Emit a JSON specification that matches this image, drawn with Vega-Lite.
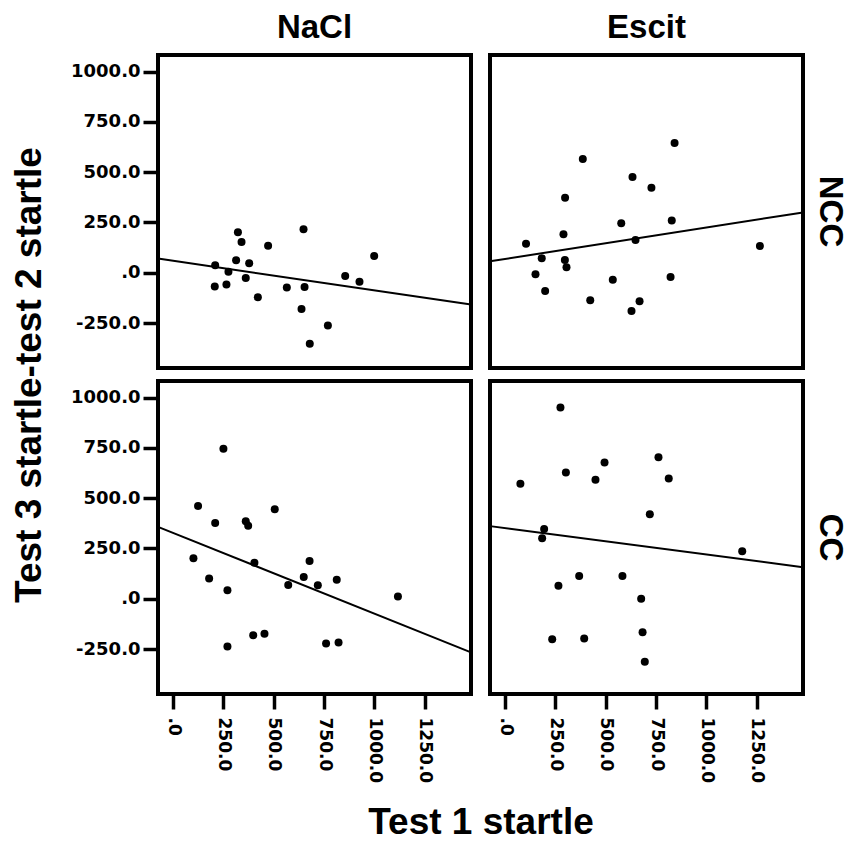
{
  "$schema": "https://vega.github.io/schema/vega-lite/v6.json",
  "padding": {"left": 10, "top": 12, "right": 5, "bottom": 5},
  "bounds": "flush",
  "data": {"values": [
    {"treatment":"NaCl","group":"NCC","kind":"point","x":322,"y":202},
    {"treatment":"NaCl","group":"NCC","kind":"point","x":340,"y":153},
    {"treatment":"NaCl","group":"NCC","kind":"point","x":648,"y":216},
    {"treatment":"NaCl","group":"NCC","kind":"point","x":472,"y":134},
    {"treatment":"NaCl","group":"NCC","kind":"point","x":999,"y":83},
    {"treatment":"NaCl","group":"NCC","kind":"point","x":209,"y":37},
    {"treatment":"NaCl","group":"NCC","kind":"point","x":313,"y":62},
    {"treatment":"NaCl","group":"NCC","kind":"point","x":378,"y":47},
    {"treatment":"NaCl","group":"NCC","kind":"point","x":275,"y":5},
    {"treatment":"NaCl","group":"NCC","kind":"point","x":361,"y":-26},
    {"treatment":"NaCl","group":"NCC","kind":"point","x":207,"y":-68},
    {"treatment":"NaCl","group":"NCC","kind":"point","x":265,"y":-58},
    {"treatment":"NaCl","group":"NCC","kind":"point","x":421,"y":-121},
    {"treatment":"NaCl","group":"NCC","kind":"point","x":565,"y":-73},
    {"treatment":"NaCl","group":"NCC","kind":"point","x":653,"y":-71},
    {"treatment":"NaCl","group":"NCC","kind":"point","x":855,"y":-16},
    {"treatment":"NaCl","group":"NCC","kind":"point","x":926,"y":-45},
    {"treatment":"NaCl","group":"NCC","kind":"point","x":638,"y":-180},
    {"treatment":"NaCl","group":"NCC","kind":"point","x":769,"y":-262},
    {"treatment":"NaCl","group":"NCC","kind":"point","x":679,"y":-353},
    {"treatment":"NaCl","group":"NCC","kind":"fit","x":-75,"y":71},
    {"treatment":"NaCl","group":"NCC","kind":"fit","x":1480,"y":-158},
    {"treatment":"Escit","group":"NCC","kind":"point","x":842,"y":645},
    {"treatment":"Escit","group":"NCC","kind":"point","x":386,"y":565},
    {"treatment":"Escit","group":"NCC","kind":"point","x":633,"y":476},
    {"treatment":"Escit","group":"NCC","kind":"point","x":727,"y":423},
    {"treatment":"Escit","group":"NCC","kind":"point","x":298,"y":373},
    {"treatment":"Escit","group":"NCC","kind":"point","x":577,"y":246},
    {"treatment":"Escit","group":"NCC","kind":"point","x":828,"y":260},
    {"treatment":"Escit","group":"NCC","kind":"point","x":290,"y":191},
    {"treatment":"Escit","group":"NCC","kind":"point","x":104,"y":144},
    {"treatment":"Escit","group":"NCC","kind":"point","x":648,"y":163},
    {"treatment":"Escit","group":"NCC","kind":"point","x":1266,"y":133},
    {"treatment":"Escit","group":"NCC","kind":"point","x":182,"y":72},
    {"treatment":"Escit","group":"NCC","kind":"point","x":297,"y":63},
    {"treatment":"Escit","group":"NCC","kind":"point","x":305,"y":28},
    {"treatment":"Escit","group":"NCC","kind":"point","x":151,"y":-7},
    {"treatment":"Escit","group":"NCC","kind":"point","x":199,"y":-90},
    {"treatment":"Escit","group":"NCC","kind":"point","x":535,"y":-35},
    {"treatment":"Escit","group":"NCC","kind":"point","x":822,"y":-21},
    {"treatment":"Escit","group":"NCC","kind":"point","x":423,"y":-136},
    {"treatment":"Escit","group":"NCC","kind":"point","x":668,"y":-141},
    {"treatment":"Escit","group":"NCC","kind":"point","x":628,"y":-190},
    {"treatment":"Escit","group":"NCC","kind":"fit","x":-75,"y":57},
    {"treatment":"Escit","group":"NCC","kind":"fit","x":1480,"y":300},
    {"treatment":"NaCl","group":"CC","kind":"point","x":250,"y":746},
    {"treatment":"NaCl","group":"CC","kind":"point","x":124,"y":461},
    {"treatment":"NaCl","group":"CC","kind":"point","x":505,"y":445},
    {"treatment":"NaCl","group":"CC","kind":"point","x":209,"y":377},
    {"treatment":"NaCl","group":"CC","kind":"point","x":361,"y":385},
    {"treatment":"NaCl","group":"CC","kind":"point","x":373,"y":363},
    {"treatment":"NaCl","group":"CC","kind":"point","x":101,"y":201},
    {"treatment":"NaCl","group":"CC","kind":"point","x":404,"y":179},
    {"treatment":"NaCl","group":"CC","kind":"point","x":678,"y":188},
    {"treatment":"NaCl","group":"CC","kind":"point","x":179,"y":101},
    {"treatment":"NaCl","group":"CC","kind":"point","x":649,"y":108},
    {"treatment":"NaCl","group":"CC","kind":"point","x":813,"y":95},
    {"treatment":"NaCl","group":"CC","kind":"point","x":270,"y":43},
    {"treatment":"NaCl","group":"CC","kind":"point","x":572,"y":68},
    {"treatment":"NaCl","group":"CC","kind":"point","x":719,"y":67},
    {"treatment":"NaCl","group":"CC","kind":"point","x":1117,"y":12},
    {"treatment":"NaCl","group":"CC","kind":"point","x":398,"y":-181},
    {"treatment":"NaCl","group":"CC","kind":"point","x":454,"y":-174},
    {"treatment":"NaCl","group":"CC","kind":"point","x":270,"y":-237},
    {"treatment":"NaCl","group":"CC","kind":"point","x":760,"y":-222},
    {"treatment":"NaCl","group":"CC","kind":"point","x":822,"y":-217},
    {"treatment":"NaCl","group":"CC","kind":"fit","x":-75,"y":357},
    {"treatment":"NaCl","group":"CC","kind":"fit","x":1480,"y":-266},
    {"treatment":"Escit","group":"CC","kind":"point","x":275,"y":950},
    {"treatment":"Escit","group":"CC","kind":"point","x":762,"y":703},
    {"treatment":"Escit","group":"CC","kind":"point","x":494,"y":677},
    {"treatment":"Escit","group":"CC","kind":"point","x":302,"y":627},
    {"treatment":"Escit","group":"CC","kind":"point","x":449,"y":591},
    {"treatment":"Escit","group":"CC","kind":"point","x":813,"y":597},
    {"treatment":"Escit","group":"CC","kind":"point","x":76,"y":571},
    {"treatment":"Escit","group":"CC","kind":"point","x":719,"y":420},
    {"treatment":"Escit","group":"CC","kind":"point","x":194,"y":347},
    {"treatment":"Escit","group":"CC","kind":"point","x":184,"y":301},
    {"treatment":"Escit","group":"CC","kind":"point","x":1178,"y":236},
    {"treatment":"Escit","group":"CC","kind":"point","x":368,"y":113},
    {"treatment":"Escit","group":"CC","kind":"point","x":583,"y":113},
    {"treatment":"Escit","group":"CC","kind":"point","x":265,"y":65},
    {"treatment":"Escit","group":"CC","kind":"point","x":676,"y":0},
    {"treatment":"Escit","group":"CC","kind":"point","x":683,"y":-166},
    {"treatment":"Escit","group":"CC","kind":"point","x":234,"y":-201},
    {"treatment":"Escit","group":"CC","kind":"point","x":393,"y":-197},
    {"treatment":"Escit","group":"CC","kind":"point","x":694,"y":-313},
    {"treatment":"Escit","group":"CC","kind":"fit","x":-75,"y":361},
    {"treatment":"Escit","group":"CC","kind":"fit","x":1480,"y":157}
  ]},
  "facet": {
    "column": {"field": "treatment", "type": "nominal", "sort": ["NaCl", "Escit"], "title": "Test 1 startle",
      "header": {"labelOrient": "top", "titleOrient": "bottom",
        "labelFont": "Liberation Sans", "labelFontWeight": "bold", "labelFontSize": 33, "labelColor": "#000", "labelPadding": 10,
        "titleFont": "Liberation Sans", "titleFontWeight": "bold", "titleFontSize": 37, "titleColor": "#000", "titlePadding": 12}},
    "row": {"field": "group", "type": "nominal", "sort": ["NCC", "CC"], "title": "Test 3 startle-test 2 startle",
      "header": {"labelOrient": "right", "titleOrient": "left", "labelAngle": 90, "labelAlign": "center", "labelBaseline": "middle",
        "labelFont": "Liberation Sans", "labelFontWeight": "bold", "labelFontSize": 33, "labelColor": "#000", "labelPadding": -6,
        "titleFont": "Liberation Sans", "titleFontWeight": "bold", "titleFontSize": 37, "titleColor": "#000", "titlePadding": 11}}
  },
  "spacing": {"row": 13, "column": 19},
  "spec": {
    "width": 313,
    "height": 313,
    "encoding": {
      "x": {"field": "x", "type": "quantitative",
        "scale": {"domain": [-75, 1480], "nice": false, "zero": false},
        "axis": {"values": [0, 250, 500, 750, 1000, 1250], "labelAngle": 90, "labelAlign": "left", "labelBaseline": "middle",
          "labelFontSize": 17, "labelPadding": 8, "title": null}},
      "y": {"field": "y", "type": "quantitative",
        "scale": {"domain": [-473, 1082], "nice": false, "zero": false},
        "axis": {"values": [-250, 0, 250, 500, 750, 1000], "labelFontSize": 18, "labelPadding": 3, "title": null}}
    },
    "layer": [
      {"transform": [{"filter": "datum.kind == 'point'"}],
       "mark": {"type": "point", "shape": "circle", "filled": true, "size": 64, "color": "#000", "opacity": 1}},
      {"transform": [{"filter": "datum.kind == 'fit'"}],
       "mark": {"type": "line", "color": "#000", "strokeWidth": 2}}
    ]
  },
  "config": {
    "background": "#ffffff",
    "view": {"stroke": "#000", "strokeWidth": 4},
    "axis": {
      "domain": false, "grid": false,
      "ticks": true, "tickSize": 15, "tickWidth": 3.5, "tickColor": "#000",
      "labelFont": "DejaVu Sans", "labelFontWeight": "bold", "labelColor": "#000",
      "labelExpr": "datum.value == 0 ? '.0' : datum.value + '.0'"
    }
  }
}
